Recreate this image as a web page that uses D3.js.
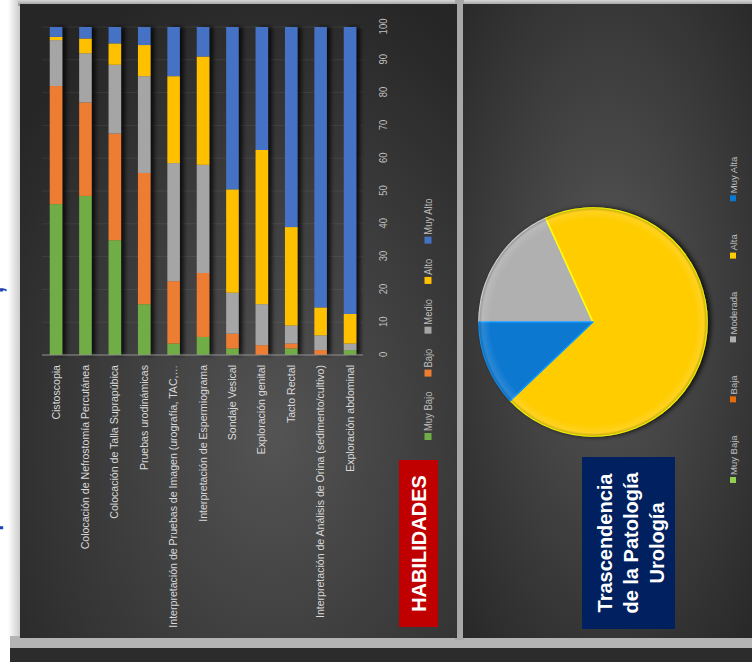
<!DOCTYPE html>
<html><head><meta charset="utf-8">
<script src="https://cdn.jsdelivr.net/npm/d3@7"></script>
<style>html,body{margin:0;padding:0;background:#fff;}svg{display:block}</style>
</head><body>
<script>
// ---------- DATA ----------
const categories = [
  "Cistoscopia",
  "Colocación de Nefrostomía Percutánea",
  "Colocación de Talla Suprapúbica",
  "Pruebas urodinámicas",
  "Interpretación de Pruebas de Imagen (urografía, TAC,…",
  "Interpretación de Espermiograma",
  "Sondaje Vesical",
  "Exploración genital",
  "Tacto Rectal",
  "Interpretación de Análisis de Orina (sedimento/cultivo)",
  "Exploración abdominal"
];
const seriesNames = ["Muy Bajo", "Bajo", "Medio", "Alto", "Muy Alto"];
const muyBajo = [46, 48.5, 35, 15.5, 3.5, 5.5, 2, 0, 2, 0, 1.5];
const bajo    = [36, 28.5, 32.5, 40, 19, 19.5, 4.5, 3, 1.5, 1.5, 0];
const medio   = [14, 15, 21, 29.5, 36, 33, 12.5, 12.5, 5.5, 4.5, 2];
const alto    = [1, 4.5, 6.5, 9.5, 26.5, 33, 31.5, 47, 30, 8.5, 9];
const muyAlto = [3, 3.5, 5, 5.5, 15, 9, 49.5, 37.5, 61, 85.5, 87.5];
const valueTicks = [0, 10, 20, 30, 40, 50, 60, 70, 80, 90, 100];
const barTitle = "HABILIDADES";

const pieLabels = ["Muy Baja", "Baja", "Moderada", "Alta", "Muy Alta"];
const pieValues = [0, 0, 18.2, 69.7, 12.1];
const pieTitle = ["Trascendencia", "de la Patología", "Urología"];

// ---------- STYLE ----------
const barColors = ["#70ad47", "#ed7d31", "#a5a5a5", "#ffc000", "#4472c4"];
const pieColors = ["#92d050", "#e46c0a", "#b0b0b0", "#ffcc00", "#0a78d0"];
const sans = "'Liberation Sans',Arial,sans-serif";
const SX = 0.86;  // horizontal condensation of tick/legend labels
const SXC = 0.92; // horizontal condensation of category labels

const W = 752, H = 662;
const svg = d3.select("body").append("svg").attr("width", W).attr("height", H);
const defs = svg.append("defs");

function radial(id, cx, cy, r, c0, c1) {
  const g = defs.append("radialGradient").attr("id", id)
    .attr("cx", cx).attr("cy", cy).attr("r", r);
  g.append("stop").attr("offset", "0%").attr("stop-color", c0);
  g.append("stop").attr("offset", "100%").attr("stop-color", c1);
}
radial("bgL", "58%", "68%", "75%", "#545454", "#262626");
radial("bgR", "50%", "48%", "75%", "#575757", "#262626");

const lg = defs.append("linearGradient").attr("id", "leftShade").attr("x1", "0").attr("x2", "1");
lg.append("stop").attr("offset", "0").attr("stop-color", "#ffffff");
lg.append("stop").attr("offset", "1").attr("stop-color", "#9a9a9a");
const tg = defs.append("linearGradient").attr("id", "topShade").attr("x1", "0").attr("x2", "0").attr("y1", "0").attr("y2", "1");
tg.append("stop").attr("offset", "0").attr("stop-color", "#d8d8d8");
tg.append("stop").attr("offset", "1").attr("stop-color", "#8e8e8e");

const fb = defs.append("filter").attr("id", "barShadow").attr("x", "-50%").attr("y", "-50%").attr("width", "200%").attr("height", "200%");
fb.append("feDropShadow").attr("dx", 0).attr("dy", 4).attr("stdDeviation", 2.2)
  .attr("flood-color", "#000").attr("flood-opacity", 0.75);
const fp = defs.append("filter").attr("id", "pieShadow").attr("x", "-30%").attr("y", "-30%").attr("width", "160%").attr("height", "160%");
fp.append("feDropShadow").attr("dx", 0).attr("dy", 3).attr("stdDeviation", 2.5)
  .attr("flood-color", "#000").attr("flood-opacity", 0.8);
const bev = defs.append("radialGradient").attr("id", "bevel").attr("cx", "50%").attr("cy", "50%").attr("r", "50%");
bev.append("stop").attr("offset", "0.9").attr("stop-color", "#fff").attr("stop-opacity", 0);
bev.append("stop").attr("offset", "0.97").attr("stop-color", "#fff").attr("stop-opacity", 0.12);
bev.append("stop").attr("offset", "1").attr("stop-color", "#000").attr("stop-opacity", 0.25);

// ---------- PAGE BACKGROUND (image coordinates) ----------
svg.append("rect").attr("width", W).attr("height", H).attr("fill", "#fff");
svg.append("rect").attr("x", 8).attr("y", 0).attr("width", 14).attr("height", 640).attr("fill", "url(#leftShade)").attr("opacity", 0.6);
svg.append("rect").attr("x", 18).attr("y", 0).attr("width", W - 18).attr("height", 6).attr("fill", "url(#topShade)");
svg.append("rect").attr("x", 10).attr("y", 636).attr("width", W - 10).attr("height", 13).attr("fill", "#b4b4b4");
svg.append("rect").attr("x", 10).attr("y", 648).attr("width", W - 10).attr("height", 14).attr("fill", "#2c2c2c");
svg.append("rect").attr("x", 455).attr("y", 0).attr("width", 9).attr("height", 640).attr("fill", "#a8a8a8");
svg.append("rect").attr("x", 20).attr("y", 4).attr("width", 437).attr("height", 634).attr("fill", "url(#bgL)");
svg.append("rect").attr("x", 463).attr("y", 4).attr("width", W - 463).attr("height", 634).attr("fill", "url(#bgR)");

// ---------- SLIDE CONTENT (rotated -90°) ----------
const slide = svg.append("g").attr("transform", `translate(0,${H}) rotate(-90)`);

// cut-off blue title fragments at the slide's top edge (only their lower parts are visible)
slide.append("text").attr("x", 372).attr("y", 3).attr("fill", "#1f3fb0")
  .attr("font-family", sans).attr("font-weight", "bold").attr("font-size", 22)
  .attr("text-anchor", "middle").text(",");
slide.append("text").attr("x", 138).attr("y", -2).attr("fill", "#1f3fb0")
  .attr("font-family", sans).attr("font-weight", "bold").attr("font-size", 22)
  .attr("text-anchor", "middle").text("p");

// --- bar chart ---
const x = d3.scaleLinear().domain([0, 100]).range([307, 635]);
const y = d3.scaleBand().domain(categories).range([41.3, 364.7]).paddingInner(0.575).paddingOuter(0.2875);

const rows = categories.map((c, i) => ({
  cat: c, "Muy Bajo": muyBajo[i], "Bajo": bajo[i], "Medio": medio[i], "Alto": alto[i], "Muy Alto": muyAlto[i]
}));
const stacked = d3.stack().keys(seriesNames)(rows);

// gridlines
slide.append("g").selectAll("line").data(valueTicks).join("line")
  .attr("x1", d => x(d)).attr("x2", d => x(d)).attr("y1", 42).attr("y2", 363)
  .attr("stroke", "#ffffff").attr("stroke-opacity", 0.07).attr("stroke-width", 1);

const barsG = slide.append("g").attr("filter", "url(#barShadow)");
stacked.forEach((s, si) => {
  barsG.append("g").attr("fill", barColors[si]).selectAll("rect").data(s).join("rect")
    .attr("x", d => x(d[0])).attr("width", d => Math.max(0, x(d[1]) - x(d[0])))
    .attr("y", d => y(d.data.cat)).attr("height", y.bandwidth());
});

// category axis line
slide.append("line").attr("x1", x(0)).attr("x2", x(0)).attr("y1", 42).attr("y2", 363)
  .attr("stroke", "#8c8c8c").attr("stroke-width", 1);

// value axis labels
const xAxis = d3.axisBottom(x).tickValues(valueTicks).tickSize(0).tickPadding(0);
const xa = slide.append("g").attr("transform", "translate(0,379)").call(xAxis);
xa.select(".domain").remove();
xa.selectAll("text").attr("fill", "#bfbfbf").attr("font-family", sans).attr("font-size", 11)
  .attr("transform", `scale(${SX},1)`);

// category labels
const yAxis = d3.axisLeft(y).tickSize(0).tickPadding(10);
const ya = slide.append("g").attr("transform", `translate(${x(0)},0)`).call(yAxis);
ya.select(".domain").remove();
ya.selectAll("text").attr("fill", "#d9d9d9").attr("font-family", sans).attr("font-size", 11.5)
  .attr("x", -10 / SXC).attr("transform", `scale(${SXC},1)`);

// legend
const leg = slide.append("g").attr("transform", "translate(222,428)");
let lx = 0;
seriesNames.forEach((n, i) => {
  const g = leg.append("g").attr("transform", `translate(${lx},0)`);
  g.append("rect").attr("x", 0).attr("y", -3.5).attr("width", 7).attr("height", 7).attr("fill", barColors[i]);
  const t = g.append("text").attr("x", 9 / SX).attr("y", 4).attr("fill", "#bfbfbf")
    .attr("font-family", sans).attr("font-size", 11).attr("transform", `scale(${SX},1)`).text(n);
  lx += 9 + t.node().getComputedTextLength() * SX + 15;
});

// title box
slide.append("rect").attr("x", 35).attr("y", 399).attr("width", 167).attr("height", 39).attr("fill", "#c00000");
slide.append("text").attr("x", 118.5).attr("y", 426).attr("text-anchor", "middle").attr("fill", "#fff")
  .attr("font-family", sans).attr("font-weight", "bold").attr("font-size", 20)
  .text(barTitle);

// --- pie chart ---
const pieC = { u: 340, v: 593 }, R = 114;
const pie = d3.pie().sort(null).value(d => d)(pieValues);
const arc = d3.arc().innerRadius(0).outerRadius(R);
const pg = slide.append("g").attr("transform", `translate(${pieC.u},${pieC.v})`);
pg.append("g").attr("filter", "url(#pieShadow)").selectAll("path").data(pie.filter(d => d.value > 0)).join("path")
  .attr("d", arc).attr("fill", d => pieColors[d.index])
  .attr("stroke", d => d3.color(pieColors[d.index]).brighter(0.6)).attr("stroke-width", 1.5).attr("stroke-linejoin", "round");
pg.append("circle").attr("r", R).attr("fill", "url(#bevel)").attr("pointer-events", "none");

// pie legend
const pleg = slide.append("g").attr("transform", "translate(179,733)");
let px = 0;
pieLabels.forEach((n, i) => {
  const g = pleg.append("g").attr("transform", `translate(${px},0)`);
  g.append("rect").attr("x", 0).attr("y", -3).attr("width", 6).attr("height", 6).attr("fill", pieColors[i]);
  const t = g.append("text").attr("x", 8).attr("y", 3.5).attr("fill", "#bfbfbf")
    .attr("font-family", sans).attr("font-size", 9.5).text(n);
  px += 8 + t.node().getComputedTextLength() + 33;
});

// pie title box
slide.append("rect").attr("x", 33).attr("y", 582).attr("width", 172).attr("height", 93).attr("fill", "#002060");
const tt = slide.append("text").attr("text-anchor", "middle").attr("fill", "#fff")
  .attr("font-family", sans).attr("font-weight", "bold").attr("font-size", 20);
pieTitle.forEach((l, i) => {
  tt.append("tspan").attr("x", 119).attr("y", 612 + i * 26).text(l);
});
</script>
</body></html>
